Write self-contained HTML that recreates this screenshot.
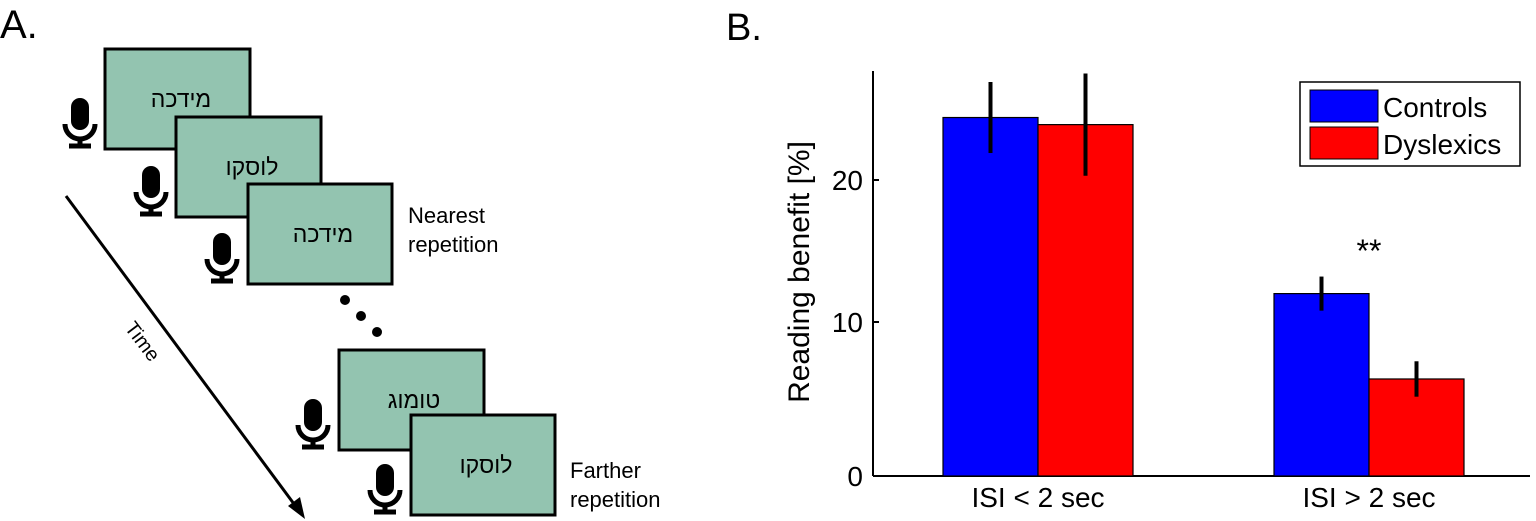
<!DOCTYPE html>
<html><head><meta charset="utf-8"><style>
body{margin:0;background:#fff;width:1536px;height:521px;overflow:hidden;font-family:"Liberation Sans",sans-serif}
svg{display:block}
.card{fill:#93c4b0;stroke:#000;stroke-width:3}
.heb{font-family:"Liberation Sans","DejaVu Sans",sans-serif;font-size:23px;text-anchor:middle}
</style></head><body>
<svg width="1536" height="521">
<defs>
<g id="mic"><rect x="-9" y="-30" width="18" height="32" rx="9" fill="#000"/><path d="M-15,-4 a15,15 0 0 0 30,0" fill="none" stroke="#000" stroke-width="5"/><line x1="0" y1="11" x2="0" y2="18" stroke="#000" stroke-width="5"/><line x1="-11" y1="18" x2="11" y2="18" stroke="#000" stroke-width="5"/></g>
</defs>
<text x="0" y="38" font-size="40">A.</text>
<g>
<rect class="card" x="105" y="49" width="145" height="100"/><text class="heb" x="181" y="107">מידכה</text>
<use href="#mic" x="80" y="128"/>
<rect class="card" x="176" y="117" width="145" height="100"/><text class="heb" x="252" y="175">לוסקו</text>
<use href="#mic" x="151" y="196"/>
<rect class="card" x="248" y="184" width="144" height="100"/><text class="heb" x="323" y="242">מידכה</text>
<use href="#mic" x="222" y="263"/>
<text x="408" y="223" font-size="22">Nearest</text><text x="408" y="252" font-size="22">repetition</text>
<circle cx="345" cy="300" r="5"/><circle cx="361" cy="316" r="5"/><circle cx="377" cy="332" r="5"/>
<rect class="card" x="339" y="350" width="145" height="100"/><text class="heb" x="414" y="408">טומוג</text>
<use href="#mic" x="313" y="429"/>
<rect class="card" x="411" y="415" width="144" height="100"/><text class="heb" x="486" y="473">לוסקו</text>
<use href="#mic" x="385" y="494"/>
<text x="570" y="478" font-size="22">Farther</text><text x="570" y="507" font-size="22">repetition</text>
<line x1="66" y1="196" x2="297" y2="508" stroke="#000" stroke-width="3"/>
<polygon points="305,519 288,506 300,497" fill="#000"/>
<text x="0" y="0" font-size="20" transform="translate(124,328) rotate(53)">Time</text>
</g>
<text x="726" y="40" font-size="38">B.</text>
<g id="chart"></g>
</svg>
<script>
const categories=["ISI < 2 sec","ISI > 2 sec"];
const seriesNames=["Controls","Dyslexics"];
const controls=[24.4,12.0];
const dyslexics=[23.9,6.3];
const controlsErr=[2.5,1.2];
const dyslexicsErr=[3.6,1.15];
const yTicks=[0,10,20];
const NS="http://www.w3.org/2000/svg";
const g=document.getElementById('chart');
const ax=873;
// axis: piecewise through measured tick positions
const tickPx=[476,322,180];
function Y(v){
 const s=v/10;let i=Math.min(Math.max(Math.floor(s),0),1);
 return tickPx[i]+(tickPx[i+1]-tickPx[i])*(s-i);
}
function el(t,a,txt){const e=document.createElementNS(NS,t);for(const n in a)e.setAttribute(n,a[n]);if(txt!==undefined)e.textContent=txt;g.appendChild(e);return e;}
let e=el('line',{x1:ax,y1:71,x2:ax,y2:Y(0),stroke:'#000','stroke-width':2});

e=el('line',{x1:ax,y1:Y(0),x2:1530,y2:Y(0),stroke:'#000','stroke-width':2});

yTicks.forEach(t=>{
 el('line',{x1:ax,y1:Y(t),x2:ax+6,y2:Y(t),stroke:'#000','stroke-width':2});
 const l=el('text',{x:ax-10,y:Y(t)+10,'font-size':28,'text-anchor':'end'},t);
 
});
e=el('text',{x:0,y:0,'font-size':30,'text-anchor':'middle',transform:`translate(809,272) rotate(-90)`},'Reading benefit [%]');

const centers=[1038,1369],bw=95;
categories.forEach((c,i)=>{
 [[controls,controlsErr,'#0000ff',-bw],[dyslexics,dyslexicsErr,'#ff0000',0]].forEach(([v,er,col,off],s)=>{
  const b=el('rect',{x:centers[i]+off,y:Y(v[i]),width:bw,height:Y(0)-Y(v[i]),fill:col,stroke:'#000','stroke-width':1.2});
  
  const eb=el('line',{x1:centers[i]+off+bw/2,x2:centers[i]+off+bw/2,y1:Y(v[i]+er[i]),y2:Y(v[i]-er[i]),stroke:'#000','stroke-width':4});
  
 });
 const l=el('text',{x:centers[i],y:507,'font-size':28,'text-anchor':'middle'},c);
 
});
e=el('text',{x:1369,y:262,'font-size':32,'text-anchor':'middle'},'**');

e=el('rect',{x:1300,y:82,width:220,height:84,fill:'#fff',stroke:'#000','stroke-width':1.5});

[['#0000ff','Controls'],['#ff0000','Dyslexics']].forEach(([c,n],i)=>{
 const r=el('rect',{x:1310,y:90+i*37,width:68,height:32,fill:c,stroke:'#000'});
 
 const t=el('text',{x:1383,y:117+i*37,'font-size':28},n);
 
});
</script>
</body></html>
